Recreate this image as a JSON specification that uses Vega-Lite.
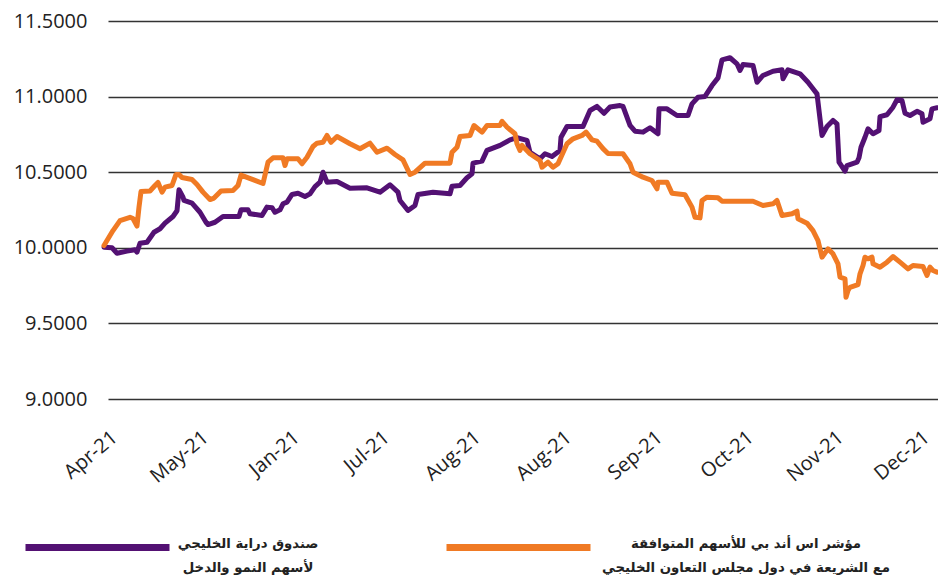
{
  "$schema": "https://vega.github.io/schema/vega-lite/v6.json",
  "width": 830,
  "height": 378,
  "autosize": {"type": "none"},
  "padding": {"left": 108, "top": 21, "right": 0, "bottom": 184},
  "background": "white",
  "config": {"view": {"stroke": null}, "font": "Open Sans"},
  "datasets": {
    "fund": [
      {"i":0,"v":10.004},{"i":8,"v":10.000},{"i":13,"v":9.964},{"i":23,"v":9.978},{"i":31,"v":9.987},{"i":33,"v":9.971},{"i":36,"v":10.030},{"i":43,"v":10.037},{"i":50,"v":10.103},{"i":56,"v":10.126},{"i":61,"v":10.163},{"i":69,"v":10.207},{"i":73,"v":10.245},{"i":75,"v":10.384},{"i":79,"v":10.335},{"i":80,"v":10.313},{"i":88,"v":10.295},{"i":96,"v":10.235},{"i":102,"v":10.169},{"i":104,"v":10.154},{"i":111,"v":10.169},{"i":119,"v":10.207},{"i":135,"v":10.207},{"i":137,"v":10.251},{"i":144,"v":10.251},{"i":146,"v":10.225},{"i":158,"v":10.214},{"i":163,"v":10.269},{"i":168,"v":10.265},{"i":171,"v":10.235},{"i":176,"v":10.251},{"i":179,"v":10.291},{"i":183,"v":10.302},{"i":188,"v":10.353},{"i":194,"v":10.361},{"i":201,"v":10.339},{"i":206,"v":10.357},{"i":211,"v":10.405},{"i":216,"v":10.434},{"i":219,"v":10.500},{"i":223,"v":10.434},{"i":233,"v":10.438},{"i":246,"v":10.394},{"i":263,"v":10.397},{"i":276,"v":10.368},{"i":286,"v":10.417},{"i":294,"v":10.368},{"i":296,"v":10.313},{"i":304,"v":10.247},{"i":311,"v":10.280},{"i":314,"v":10.353},{"i":329,"v":10.368},{"i":346,"v":10.357},{"i":348,"v":10.407},{"i":356,"v":10.412},{"i":363,"v":10.463},{"i":368,"v":10.489},{"i":369,"v":10.560},{"i":378,"v":10.573},{"i":383,"v":10.644},{"i":396,"v":10.677},{"i":406,"v":10.714},{"i":413,"v":10.728},{"i":423,"v":10.710},{"i":426,"v":10.632},{"i":436,"v":10.589},{"i":441,"v":10.622},{"i":448,"v":10.604},{"i":456,"v":10.644},{"i":457,"v":10.731},{"i":463,"v":10.802},{"i":479,"v":10.802},{"i":486,"v":10.908},{"i":493,"v":10.935},{"i":500,"v":10.890},{"i":506,"v":10.931},{"i":516,"v":10.941},{"i":519,"v":10.935},{"i":526,"v":10.809},{"i":531,"v":10.771},{"i":539,"v":10.765},{"i":546,"v":10.794},{"i":554,"v":10.754},{"i":555,"v":10.919},{"i":563,"v":10.919},{"i":573,"v":10.875},{"i":584,"v":10.875},{"i":588,"v":10.952},{"i":594,"v":10.996},{"i":601,"v":11.001},{"i":608,"v":11.073},{"i":614,"v":11.124},{"i":618,"v":11.243},{"i":626,"v":11.257},{"i":633,"v":11.217},{"i":636,"v":11.173},{"i":639,"v":11.212},{"i":649,"v":11.206},{"i":653,"v":11.095},{"i":659,"v":11.140},{"i":669,"v":11.168},{"i":678,"v":11.177},{"i":679,"v":11.118},{"i":684,"v":11.177},{"i":696,"v":11.151},{"i":704,"v":11.095},{"i":709,"v":11.052},{"i":713,"v":11.018},{"i":718,"v":10.743},{"i":723,"v":10.802},{"i":729,"v":10.842},{"i":733,"v":10.820},{"i":735,"v":10.566},{"i":741,"v":10.507},{"i":743,"v":10.544},{"i":753,"v":10.566},{"i":755,"v":10.595},{"i":757,"v":10.665},{"i":761,"v":10.731},{"i":764,"v":10.787},{"i":769,"v":10.754},{"i":775,"v":10.776},{"i":776,"v":10.868},{"i":783,"v":10.880},{"i":789,"v":10.930},{"i":793,"v":10.979},{"i":798,"v":10.974},{"i":801,"v":10.890},{"i":806,"v":10.875},{"i":813,"v":10.903},{"i":818,"v":10.886},{"i":819,"v":10.831},{"i":826,"v":10.853},{"i":828,"v":10.919},{"i":833,"v":10.926}
    ],
    "index": [
      {"i":0,"v":10.015},{"i":9,"v":10.114},{"i":16,"v":10.180},{"i":26,"v":10.202},{"i":29,"v":10.194},{"i":33,"v":10.144},{"i":35,"v":10.269},{"i":37,"v":10.372},{"i":46,"v":10.376},{"i":51,"v":10.412},{"i":54,"v":10.432},{"i":58,"v":10.368},{"i":61,"v":10.401},{"i":68,"v":10.412},{"i":72,"v":10.485},{"i":75,"v":10.485},{"i":78,"v":10.465},{"i":88,"v":10.452},{"i":93,"v":10.419},{"i":99,"v":10.368},{"i":106,"v":10.319},{"i":110,"v":10.329},{"i":117,"v":10.376},{"i":129,"v":10.379},{"i":134,"v":10.412},{"i":137,"v":10.481},{"i":147,"v":10.456},{"i":159,"v":10.425},{"i":164,"v":10.566},{"i":169,"v":10.595},{"i":179,"v":10.595},{"i":181,"v":10.544},{"i":183,"v":10.589},{"i":194,"v":10.589},{"i":198,"v":10.556},{"i":203,"v":10.599},{"i":209,"v":10.670},{"i":213,"v":10.692},{"i":219,"v":10.698},{"i":223,"v":10.743},{"i":227,"v":10.698},{"i":233,"v":10.736},{"i":246,"v":10.688},{"i":256,"v":10.655},{"i":266,"v":10.692},{"i":273,"v":10.632},{"i":283,"v":10.659},{"i":291,"v":10.617},{"i":299,"v":10.582},{"i":306,"v":10.485},{"i":311,"v":10.500},{"i":321,"v":10.560},{"i":346,"v":10.560},{"i":348,"v":10.632},{"i":353,"v":10.665},{"i":356,"v":10.736},{"i":366,"v":10.743},{"i":370,"v":10.809},{"i":378,"v":10.765},{"i":383,"v":10.809},{"i":396,"v":10.809},{"i":398,"v":10.837},{"i":403,"v":10.798},{"i":411,"v":10.754},{"i":413,"v":10.688},{"i":416,"v":10.644},{"i":418,"v":10.677},{"i":426,"v":10.622},{"i":436,"v":10.577},{"i":438,"v":10.533},{"i":444,"v":10.566},{"i":449,"v":10.533},{"i":454,"v":10.556},{"i":463,"v":10.688},{"i":469,"v":10.721},{"i":478,"v":10.743},{"i":482,"v":10.765},{"i":488,"v":10.714},{"i":493,"v":10.705},{"i":499,"v":10.656},{"i":504,"v":10.624},{"i":519,"v":10.622},{"i":526,"v":10.556},{"i":529,"v":10.500},{"i":539,"v":10.467},{"i":548,"v":10.445},{"i":553,"v":10.390},{"i":554,"v":10.434},{"i":563,"v":10.434},{"i":568,"v":10.361},{"i":581,"v":10.351},{"i":588,"v":10.269},{"i":591,"v":10.202},{"i":596,"v":10.198},{"i":598,"v":10.313},{"i":603,"v":10.335},{"i":614,"v":10.331},{"i":618,"v":10.308},{"i":649,"v":10.308},{"i":659,"v":10.280},{"i":669,"v":10.291},{"i":673,"v":10.313},{"i":678,"v":10.214},{"i":688,"v":10.225},{"i":693,"v":10.242},{"i":694,"v":10.192},{"i":703,"v":10.163},{"i":709,"v":10.114},{"i":714,"v":10.048},{"i":718,"v":9.938},{"i":724,"v":9.993},{"i":729,"v":9.960},{"i":734,"v":9.894},{"i":736,"v":9.806},{"i":741,"v":9.795},{"i":742,"v":9.673},{"i":744,"v":9.718},{"i":746,"v":9.739},{"i":754,"v":9.757},{"i":756,"v":9.828},{"i":759,"v":9.883},{"i":761,"v":9.938},{"i":764,"v":9.927},{"i":768,"v":9.938},{"i":769,"v":9.894},{"i":776,"v":9.872},{"i":783,"v":9.905},{"i":789,"v":9.942},{"i":796,"v":9.905},{"i":804,"v":9.861},{"i":809,"v":9.883},{"i":819,"v":9.876},{"i":823,"v":9.817},{"i":826,"v":9.872},{"i":829,"v":9.850},{"i":833,"v":9.839}
    ]
  },
  "encoding": {
    "x": {
      "field": "i", "type": "quantitative",
      "scale": {"domain": [4, 834], "nice": false, "zero": false},
      "axis": {
        "values": [4, 95, 186, 276, 367, 458, 549, 640, 730, 816],
        "labelExpr": "datum.value < 50 ? 'Apr-21' : datum.value < 140 ? 'May-21' : datum.value < 230 ? 'Jan-21' : datum.value < 320 ? 'Jul-21' : datum.value < 500 ? 'Aug-21' : datum.value < 600 ? 'Sep-21' : datum.value < 690 ? 'Oct-21' : datum.value < 780 ? 'Nov-21' : 'Dec-21'",
        "title": null, "grid": false, "domain": false, "ticks": false,
        "labelAngle": -40, "labelFontSize": 20, "labelColor": "#222", "labelPadding": 28,
        "labelFont": "Open Sans", "labelFlush": false, "labelOverlap": false
      }
    },
    "y": {
      "field": "v", "type": "quantitative",
      "scale": {"domain": [9, 11.5], "nice": false, "zero": false},
      "axis": {
        "values": [9, 9.5, 10, 10.5, 11, 11.5], "format": ".4f", "title": null,
        "domain": false, "ticks": false, "grid": true, "gridColor": "#333", "gridWidth": 1.3,
        "labelFontSize": 20, "labelColor": "#222", "labelPadding": 21, "labelFont": "Open Sans"
      }
    }
  },
  "layer": [
    {
      "data": {"name": "fund"},
      "mark": {"type": "line", "strokeWidth": 5, "strokeJoin": "round", "strokeCap": "round"},
      "encoding": {
        "color": {
          "datum": "صندوق دراية الخليجي لأسهم النمو والدخل",
          "type": "nominal",
          "scale": {
            "domain": ["صندوق دراية الخليجي لأسهم النمو والدخل", "مؤشر اس أند بي للأسهم المتوافقة مع الشريعة في دول مجلس التعاون الخليجي"],
            "range": ["#531173", "#F07A24"]
          },
          "legend": {
            "orient": "none", "legendX": -86, "legendY": 451,
            "direction": "horizontal", "columns": 2, "title": null,
            "symbolType": "stroke", "symbolSize": 20736, "symbolStrokeWidth": 7,
            "labelFont": "DejaVu Sans", "labelFontSize": 13.3, "labelFontWeight": "bold",
            "labelColor": "#222", "labelLimit": 500, "columnPadding": 113, "padding": 0,
            "labelOffset": 5, "labelBaseline": "alphabetic",
            "labelExpr": "indexof(datum.label, 'صندوق') == 0 ? ['صندوق دراية الخليجي', 'لأسهم النمو والدخل'] : ['مؤشر اس أند بي للأسهم المتوافقة', 'مع الشريعة في دول مجلس التعاون الخليجي']",
            "encode": {"labels": {"update": {
              "lineHeight": {"value": 24},
              "align": {"value": "center"},
              "dx": {"signal": "indexof(datum.value, 'صندوق') == 0 ? 70 : 147"}
            }}}
          }
        }
      }
    },
    {
      "data": {"name": "index"},
      "mark": {"type": "line", "strokeWidth": 5, "strokeJoin": "round", "strokeCap": "round"},
      "encoding": {
        "color": {"datum": "مؤشر اس أند بي للأسهم المتوافقة مع الشريعة في دول مجلس التعاون الخليجي", "type": "nominal"}
      }
    }
  ]
}
